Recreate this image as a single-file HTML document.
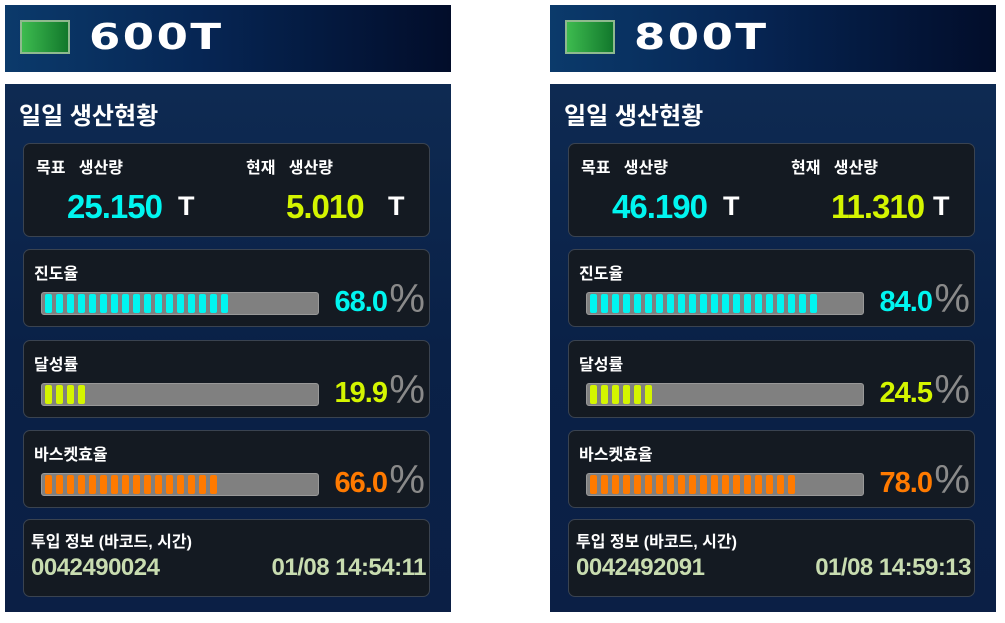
<!DOCTYPE html>
<html><head><meta charset="utf-8">
<style>
body{margin:0;width:1005px;height:623px;background:#fff;position:relative;overflow:hidden;font-family:"Liberation Sans","Noto Sans CJK KR",sans-serif;}
.abs{position:absolute;}
.hdr{height:67px;width:446px;top:5px;background:linear-gradient(90deg,#0b3a6b 0%,#062553 45%,#020d2a 100%);}
.sq{left:15px;top:15px;width:50px;height:34px;border:2px solid #8fb98f;box-sizing:border-box;background:linear-gradient(90deg,#3dbb4f,#12782c);}
.ht{left:84px;top:12px;font-size:36px;font-weight:bold;color:#fff;letter-spacing:2px;font-family:"DejaVu Sans","Liberation Sans",sans-serif;transform:scaleX(1.25);transform-origin:left;}
.body{top:84px;width:446px;height:528px;background:linear-gradient(180deg,#0e2a52,#0a2147 50%,#0b1f45);}
.title{left:14px;top:12px;font-size:24px;font-weight:bold;color:#fff;}
.card{left:18px;width:407px;background:#141a22;border:1.5px solid #3a4350;border-radius:7px;box-sizing:border-box;}
.lbl{font-size:16px;font-weight:bold;color:#fff;position:absolute;}
.big{font-size:33px;font-weight:bold;position:absolute;letter-spacing:-1px;}
.bar{left:17px;top:42px;width:278px;height:23px;background:#808080;border-radius:3px;border:1px solid #999;box-sizing:border-box;}
.seg{position:absolute;top:1px;width:7px;height:19px;border-radius:2px;}
.pv{position:absolute;right:42px;top:36px;font-size:29px;font-weight:bold;letter-spacing:-1px;}
.pc{position:absolute;right:4px;top:27px;font-size:40px;color:#8a8a8a;}
.info{font-size:24px;font-weight:bold;color:#c8dcb0;position:absolute;top:34px;letter-spacing:-0.5px;}
</style></head><body>
<div id="root"></div>
<script>
const panelNames=["600T","800T"];
const targets=["25.150","46.190"];
const currents=["5.010","11.310"];
const progress=[68.0,84.0];
const achieve=[19.9,24.5];
const basket=[66.0,78.0];
const barcodes=["0042490024","0042492091"];
const times=["01/08 14:54:11","01/08 14:59:13"];
const metricLabels=["진도율","달성률","바스켓효율"];
const metricColors=["#00f5f0","#d4f500","#ff7a00"];
const root=document.getElementById('root');
function el(tag,cls,parent,style,text){const e=document.createElement(tag);if(cls)e.className=cls;if(style)e.style.cssText=style;if(text!==undefined)e.textContent=text;parent.appendChild(e);return e;}
panelNames.forEach((nm,i)=>{
  const x=i?550:5;
  const h=el('div','abs hdr',root,'left:'+x+'px');
  
  
  const sq=el('div','abs sq',h);
  
  
  const ht=el('div','abs ht',h,'',nm);
  
  
  const b=el('div','abs body',root,'left:'+x+'px');
  
  
  const t=el('div','abs title',b,'','일일 생산현황');
  
  
  const c1=el('div','abs card',b,'top:59px;height:94px');
  
  
  el('div','lbl',c1,'left:12px;top:10px','목표\u00a0\u00a0\u00a0생산량');
  el('div','lbl',c1,'left:222px;top:10px','현재\u00a0\u00a0\u00a0생산량');
  const tv=el('div','big',c1,'left:43px;top:44px;color:#00f5f0',targets[i]);
  
  
  el('div','big',c1,'left:154px;top:47px;color:#fff;font-size:27px','T');
  const cv=el('div','big',c1,'left:262px;top:44px;color:#d4f500',currents[i]);
  
  
  el('div','big',c1,'left:364px;top:47px;color:#fff;font-size:27px','T');
  const vals=[progress[i],achieve[i],basket[i]];
  const tops=[165,256,346];
  vals.forEach((v,k)=>{
    const c=el('div','abs card',b,'top:'+tops[k]+'px;height:78px');
    
    
    el('div','lbl',c,'left:10px;top:10px',metricLabels[k]);
    const bar=el('div','abs bar',c);
    
    
    const n=Math.floor(v/4);
    for(let s=0;s<n;s++){
      const sg=el('div','seg',bar,'left:'+(3+s*11)+'px;background:'+metricColors[k]);
      
      
    }
    const pv=el('div','pv',c,'color:'+metricColors[k],v.toFixed(1));
    
    
    el('div','pc',c,'','%');
  });
  const c5=el('div','abs card',b,'top:435px;height:78px');
  
  
  el('div','lbl',c5,'left:7px;top:8px','투입 정보 (바코드, 시간)');
  const bc=el('div','info',c5,'left:7px',barcodes[i]);
  
  
  const tm=el('div','info',c5,'right:3px',times[i]);
  
  
});
</script>
</body></html>
